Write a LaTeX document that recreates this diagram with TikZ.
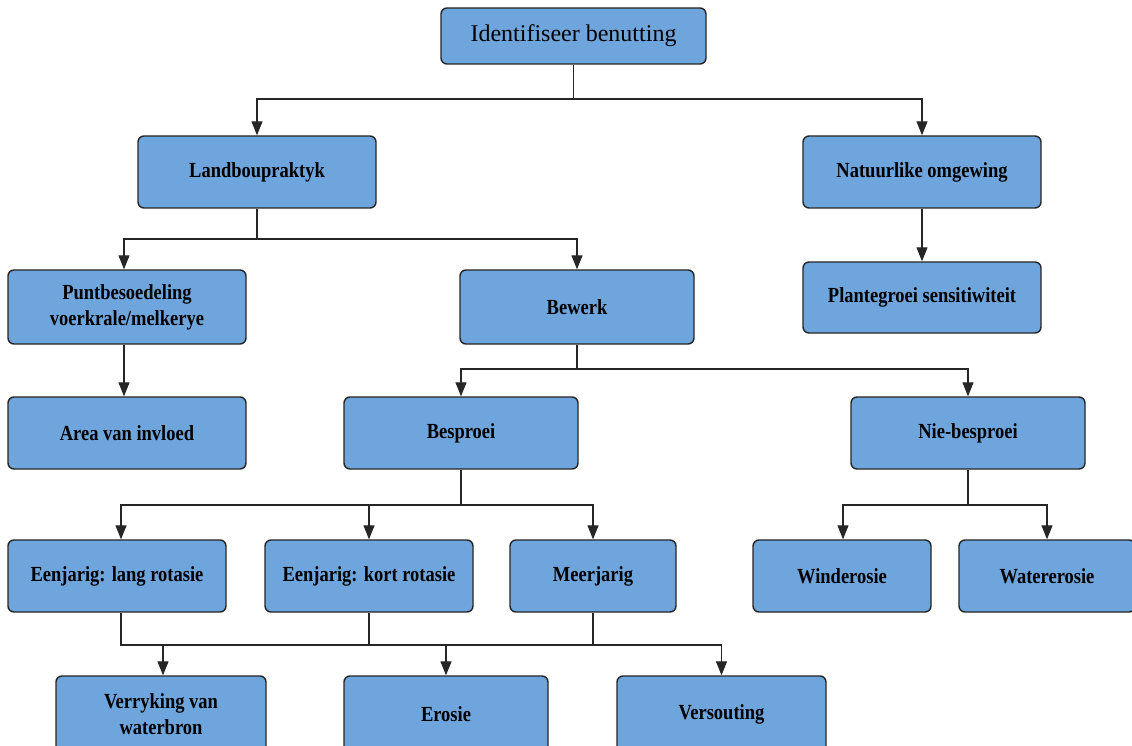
\documentclass[tikz,border=0pt]{standalone}
\usepackage{fontspec}
\setmainfont{Liberation Serif}
\newfontfamily\boxfont[FakeStretch=0.86]{Liberation Serif}
\usetikzlibrary{arrows.meta}
\definecolor{boxblue}{RGB}{110,165,220}
\tikzset{
  bx/.style={draw=black!85, line width=1.4pt, fill=boxblue, rounded corners=6pt,
    inner sep=0pt, align=center, font=\boxfont\bfseries\fontsize{21.5}{26}\selectfont},
  topbx/.style={bx, font=\fontsize{24}{28}\selectfont},
  conn/.style={line width=1.1pt, draw=black!85},
  arr/.style={conn, -{Triangle[length=14pt,width=11pt]}},
}
\begin{document}
\begin{tikzpicture}[x=1pt,y=-1pt]
\useasboundingbox (0,0) rectangle (1132,746);
\clip (0,0) rectangle (1132,746);
\fill[white] (0,0) rectangle (1132,746);
% nodes
\node[topbx, minimum width=265pt, minimum height=56pt] (id) at (573.5,36) {Identifiseer benutting};
\node[bx, minimum width=238pt, minimum height=72pt] (land) at (257,172) {Landboupraktyk};
\node[bx, minimum width=238pt, minimum height=72pt] (nat) at (922,172) {Natuurlike omgewing};
\node[bx, minimum width=238pt, minimum height=74pt] (punt) at (127,307) {Puntbesoedeling\\voerkrale/melkerye};
\node[bx, minimum width=234pt, minimum height=74pt] (bew) at (577,307) {Bewerk};
\node[bx, minimum width=238pt, minimum height=71pt] (plant) at (922,297.5) {Plantegroei sensitiwiteit};
\node[bx, minimum width=238pt, minimum height=72pt] (area) at (127,433) {Area van invloed};
\node[bx, minimum width=234pt, minimum height=72pt] (bes) at (461,433) {Besproei};
\node[bx, minimum width=234pt, minimum height=72pt] (nie) at (968,433) {Nie-besproei};
\node[bx, minimum width=218pt, minimum height=72pt] (lang) at (117,576) {Eenjarig: lang rotasie};
\node[bx, minimum width=208pt, minimum height=72pt] (kort) at (369,576) {Eenjarig: kort rotasie};
\node[bx, minimum width=166pt, minimum height=72pt] (meer) at (593,576) {Meerjarig};
\node[bx, minimum width=178pt, minimum height=72pt] (wind) at (842,576) {Winderosie};
\node[bx, minimum width=176pt, minimum height=72pt] (water) at (1047,576) {Watererosie};
\node[bx, minimum width=210pt, minimum height=76pt] (verr) at (161,714) {Verryking van\\waterbron};
\node[bx, minimum width=204pt, minimum height=76pt] (eros) at (446,714) {Erosie};
\node[bx, minimum width=209pt, minimum height=76pt] (vers) at (721.5,714) {Versouting};
% junction coordinates
\coordinate (j1) at (573.5,99);
\coordinate (j2) at (257,239);
\coordinate (j3) at (577,369);
\coordinate (j4) at (461,505);
\coordinate (j5) at (968,505);
\coordinate (j6) at (369,645);
% connectors
\draw[conn] (id.south) -- (j1);
\draw[arr] (j1) -| (land.north);
\draw[arr] (j1) -| (nat.north);
\draw[arr] (nat.south) -- (plant.north);
\draw[conn] (land.south) -- (j2);
\draw[arr] (j2) -| ([xshift=-3pt]punt.north);
\draw[arr] (j2) -| (bew.north);
\draw[arr] ([xshift=-3pt]punt.south) -- ([xshift=-3pt]area.north);
\draw[conn] (bes.south) -- (j4);
\draw[conn] (bew.south) -- (j3);
\draw[arr] (j3) -| (bes.north);
\draw[arr] (j3) -| (nie.north);
\draw[arr] (j4) -| ([xshift=4pt]lang.north);
\draw[arr] (j4) -| (kort.north);
\draw[arr] (j4) -| (meer.north);
\draw[conn] (nie.south) -- (j5);
\draw[arr] (j5) -| ([xshift=1pt]wind.north);
\draw[arr] (j5) -| (water.north);
\draw[conn] ([xshift=4pt]lang.south) |- (j6);
\draw[conn] (kort.south) -- (j6);
\draw[conn] (meer.south) |- (j6);
\draw[arr] (j6) -| ([xshift=2pt]verr.north);
\draw[arr] (j6) -| (eros.north);
\draw[arr] (meer.south |- j6) -| (vers.north);
\end{tikzpicture}
\end{document}
